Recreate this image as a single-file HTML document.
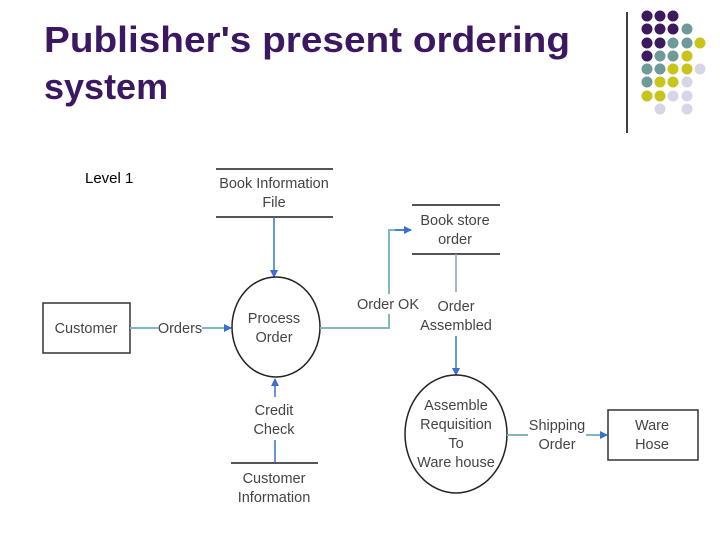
<!DOCTYPE html>
<html><head><style>body{margin:0;background:#fff}svg{display:block}</style></head><body>
<svg width="720" height="540" viewBox="0 0 720 540" xmlns="http://www.w3.org/2000/svg" font-family="Liberation Sans, sans-serif">
<defs><marker id="a" markerWidth="8" markerHeight="8" refX="7" refY="4" orient="auto" markerUnits="userSpaceOnUse"><path d="M0,0 L8,4 L0,8z" fill="#3a6fd0"/></marker></defs>
<text x="44" y="52" font-size="36" font-weight="bold" fill="#3b1860" textLength="526" lengthAdjust="spacingAndGlyphs">Publisher's present ordering</text>
<text x="44" y="99" font-size="36" font-weight="bold" fill="#3b1860">system</text>
<line x1="627" y1="12" x2="627" y2="133" stroke="#000" stroke-width="1.5"/>
<g>
<circle cx="647" cy="16" r="5.5" fill="#3d1a5e"/><circle cx="660" cy="16" r="5.5" fill="#3d1a5e"/><circle cx="673" cy="16" r="5.5" fill="#3d1a5e"/>
<circle cx="647" cy="29" r="5.5" fill="#3d1a5e"/><circle cx="660" cy="29" r="5.5" fill="#3d1a5e"/><circle cx="673" cy="29" r="5.5" fill="#3d1a5e"/><circle cx="687" cy="29" r="5.5" fill="#6f9a9a"/>
<circle cx="647" cy="43" r="5.5" fill="#3d1a5e"/><circle cx="660" cy="43" r="5.5" fill="#3d1a5e"/><circle cx="673" cy="43" r="5.5" fill="#6f9a9a"/><circle cx="687" cy="43" r="5.5" fill="#6f9a9a"/><circle cx="700" cy="43" r="5.5" fill="#c8c41c"/>
<circle cx="647" cy="56" r="5.5" fill="#3d1a5e"/><circle cx="660" cy="56" r="5.5" fill="#6f9a9a"/><circle cx="673" cy="56" r="5.5" fill="#6f9a9a"/><circle cx="687" cy="56" r="5.5" fill="#c8c41c"/>
<circle cx="647" cy="69" r="5.5" fill="#6f9a9a"/><circle cx="660" cy="69" r="5.5" fill="#6f9a9a"/><circle cx="673" cy="69" r="5.5" fill="#c8c41c"/><circle cx="687" cy="69" r="5.5" fill="#c8c41c"/><circle cx="700" cy="69" r="5.5" fill="#d6d6e8"/>
<circle cx="647" cy="82" r="5.5" fill="#6f9a9a"/><circle cx="660" cy="82" r="5.5" fill="#c8c41c"/><circle cx="673" cy="82" r="5.5" fill="#c8c41c"/><circle cx="687" cy="82" r="5.5" fill="#d6d6e8"/>
<circle cx="647" cy="96" r="5.5" fill="#c8c41c"/><circle cx="660" cy="96" r="5.5" fill="#c8c41c"/><circle cx="673" cy="96" r="5.5" fill="#d6d6e8"/><circle cx="687" cy="96" r="5.5" fill="#d6d6e8"/>
<circle cx="660" cy="109" r="5.5" fill="#d6d6e8"/><circle cx="687" cy="109" r="5.5" fill="#d6d6e8"/>
</g>
<text x="85" y="183" font-size="15" fill="#000">Level 1</text>
<g font-size="14.5" fill="#444" text-anchor="middle">
<line x1="216" y1="169" x2="333" y2="169" stroke="#555" stroke-width="2"/>
<line x1="216" y1="217" x2="333" y2="217" stroke="#555" stroke-width="2"/>
<text x="274" y="188">Book Information</text><text x="274" y="207">File</text>
<line x1="274" y1="217" x2="274" y2="277" stroke="#3a6fd0" stroke-width="1.5" marker-end="url(#a)"/>
<line x1="412" y1="205" x2="500" y2="205" stroke="#555" stroke-width="2"/>
<line x1="412" y1="254" x2="500" y2="254" stroke="#555" stroke-width="2"/>
<text x="455" y="225">Book store</text><text x="455" y="244">order</text>
<rect x="43" y="303" width="87" height="50" fill="#fff" stroke="#333" stroke-width="1.5"/>
<text x="86" y="333">Customer</text>
<line x1="130" y1="328" x2="158" y2="328" stroke="#7fb8c0" stroke-width="2"/>
<text x="180" y="333">Orders</text>
<line x1="202" y1="328" x2="231" y2="328" stroke="#7fb8c0" stroke-width="2" marker-end="url(#a)"/>
<ellipse cx="276" cy="327" rx="44" ry="50" fill="#fff" stroke="#222" stroke-width="1.5"/>
<text x="274" y="323">Process</text><text x="274" y="342">Order</text>
<polyline points="320,328 389,328 389,230 411,230" fill="none" stroke="#7fb8c0" stroke-width="2"/>
<line x1="395" y1="230" x2="411" y2="230" stroke="#3a6fd0" stroke-width="1.5" marker-end="url(#a)"/>
<rect x="356" y="294" width="66" height="20" fill="#fff"/>
<text x="388" y="309">Order OK</text>
<line x1="456" y1="254" x2="456" y2="292" stroke="#8899cc" stroke-width="1.5"/>
<text x="456" y="311">Order</text><text x="456" y="330">Assembled</text>
<line x1="456" y1="336" x2="456" y2="375" stroke="#3a6fd0" stroke-width="1.5" marker-end="url(#a)"/>
<line x1="275" y1="397" x2="275" y2="379" stroke="#3a6fd0" stroke-width="1.5" marker-end="url(#a)"/>
<text x="274" y="415">Credit</text><text x="274" y="434">Check</text>
<line x1="275" y1="440" x2="275" y2="463" stroke="#3a6fd0" stroke-width="1.5"/>
<line x1="231" y1="463" x2="318" y2="463" stroke="#555" stroke-width="2"/>
<text x="274" y="483">Customer</text><text x="274" y="502">Information</text>
<ellipse cx="456" cy="434" rx="51" ry="59" fill="#fff" stroke="#222" stroke-width="1.5"/>
<text x="456" y="410">Assemble</text><text x="456" y="429">Requisition</text><text x="456" y="448">To</text><text x="456" y="467">Ware house</text>
<line x1="507" y1="435" x2="528" y2="435" stroke="#7fb8c0" stroke-width="2"/>
<text x="557" y="430">Shipping</text><text x="557" y="449">Order</text>
<line x1="586" y1="435" x2="607" y2="435" stroke="#7fb8c0" stroke-width="2" marker-end="url(#a)"/>
<rect x="608" y="410" width="90" height="50" fill="#fff" stroke="#333" stroke-width="1.5"/>
<text x="652" y="430">Ware</text><text x="652" y="449">Hose</text>
</g>
</svg>
</body></html>
